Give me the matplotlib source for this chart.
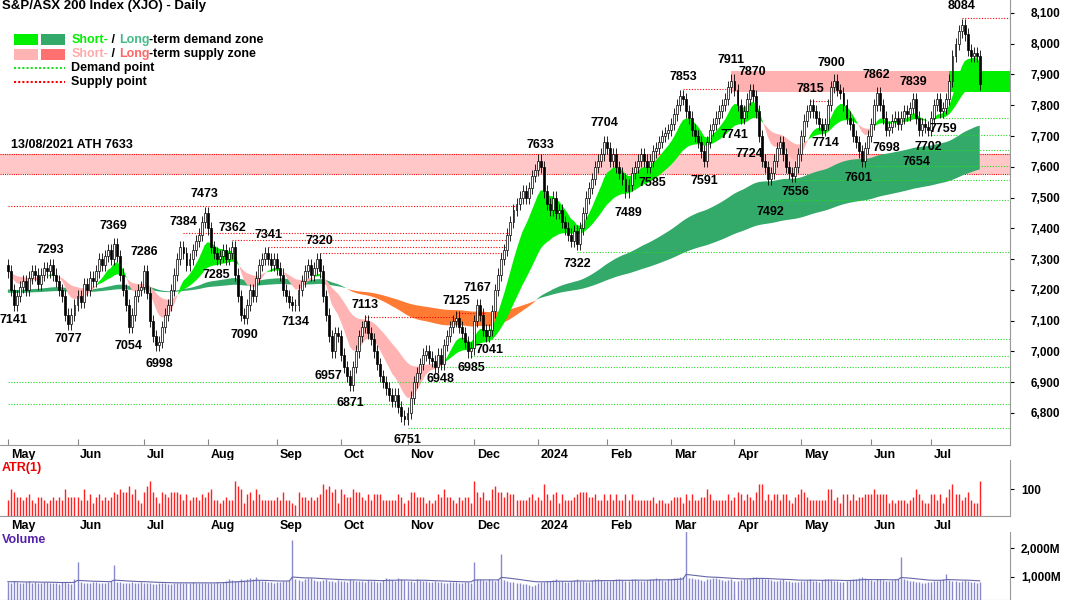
"""S&P/ASX 200 daily chart: candles, demand/supply zones, ATR(1) and volume panels -> out.png."""
import numpy as np
import matplotlib
matplotlib.use("Agg")
import matplotlib.pyplot as plt
from matplotlib.patches import Rectangle
from matplotlib.ticker import FuncFormatter

plt.rcParams["font.family"] = ["Liberation Sans", "DejaVu Sans"]

# daily closes, May 2023 .. 23 Jul 2024
closes = [
    7260, 7200, 7150, 7180, 7210, 7230, 7200, 7240, 7260, 7250, 7220, 7250, 7270, 7260, 7280, 7250, 7230, 7200, 7180, 7120, 7090, 7120, 7150,
    7180, 7160, 7220, 7200, 7240, 7230, 7260, 7300, 7280, 7310, 7330, 7300, 7350, 7310, 7250, 7200, 7150, 7080, 7120, 7180, 7200, 7210,
    7260, 7190, 7100, 7050, 7020, 7030, 7080, 7120, 7150, 7200, 7250, 7300, 7340, 7320, 7280, 7300, 7330, 7360, 7380, 7420, 7450,
    7400, 7340, 7320, 7300, 7310, 7330, 7300, 7320, 7340, 7250, 7180, 7120, 7110, 7150, 7200, 7180, 7240, 7280, 7300, 7320, 7300, 7280, 7300,
    7270, 7250, 7200, 7180, 7160, 7150, 7150, 7200, 7230, 7260, 7280, 7250, 7270, 7300, 7260, 7180, 7120, 7050, 7000, 7060, 7050,
    6990, 6950, 6920, 6890, 6950, 7000, 7050, 7080, 7100, 7060, 7040, 7000, 6960, 6920, 6900, 6880, 6860, 6840, 6860, 6820, 6790, 6780,
    6800, 6850, 6900, 6930, 6960, 6990, 7000, 6980, 6970, 6950, 6990, 6960, 7020, 7050, 7080, 7100, 7110, 7080, 7060, 7030, 7000, 7010,
    7100, 7150, 7120, 7070, 7050, 7070, 7130, 7200, 7250, 7300, 7330, 7380, 7420, 7460, 7480, 7500, 7520, 7500, 7530, 7570, 7590,
    7620, 7600, 7520, 7480, 7460, 7500, 7450, 7460, 7420, 7400, 7380, 7360, 7390, 7350, 7400, 7450, 7500, 7530, 7560, 7600, 7620, 7640, 7680,
    7660, 7620, 7640, 7600, 7580, 7560, 7520, 7540, 7580, 7600, 7620, 7640, 7620, 7600, 7620, 7650, 7660, 7680, 7700, 7710, 7720,
    7740, 7770, 7800, 7830, 7820, 7780, 7760, 7720, 7700, 7680, 7650, 7620, 7680, 7720, 7740, 7760, 7780, 7800, 7820, 7860, 7880,
    7850, 7800, 7760, 7780, 7820, 7850, 7830, 7780, 7700, 7620, 7600, 7560, 7580, 7620, 7660, 7680, 7640, 7600, 7580, 7570, 7600, 7640,
    7700, 7750, 7780, 7800, 7780, 7760, 7740, 7720, 7740, 7800, 7860, 7880, 7850, 7840, 7800, 7760, 7740, 7700, 7680, 7650, 7620, 7660, 7700,
    7740, 7800, 7840, 7800, 7760, 7720, 7730, 7750, 7760, 7740, 7760, 7780, 7770, 7790, 7820, 7760, 7720, 7740, 7730, 7720,
    7760, 7800, 7820, 7780, 7790, 7820, 7880, 7960, 8000, 8040, 8060, 8030, 7980, 7960, 7970, 7960, 7870,
]
first_open = 7280
wick = 20

# volume, millions of shares
volumes = [
    820, 780, 850, 800, 790, 760, 810, 830, 790, 800, 770, 760, 820, 800, 790, 780, 760, 740, 800, 820, 780, 750, 900,
    1500, 800, 780, 760, 790, 820, 800, 780, 770, 790, 810, 830, 1400, 820, 800, 780, 760, 790, 800, 770, 760, 820,
    790, 780, 760, 740, 750, 770, 780, 760, 740, 730, 760, 780, 790, 770, 760, 780, 800, 790, 770, 760, 780,
    770, 760, 780, 800, 790, 820, 840, 900, 880, 860, 840, 900, 880, 920, 960, 900, 1000, 880, 860, 840, 820, 800, 780,
    800, 820, 840, 860, 880, 2300, 900, 880, 860, 920, 960, 940, 880, 860, 840, 880, 900, 860, 840, 820, 880,
    860, 840, 820, 900, 880, 860, 840, 830, 820, 880, 860, 840, 820, 800, 880, 960, 900, 880, 860, 940, 900, 880,
    860, 840, 820, 900, 880, 860, 840, 820, 800, 840, 820, 800, 780, 760, 800, 820, 800, 780, 760, 800, 820, 790,
    1500, 900, 920, 880, 860, 900, 880, 860, 920, 1800, 880, 840, 820, 800, 780, 760, 740, 720, 700, 680, 700,
    760, 800, 820, 840, 860, 880, 900, 860, 840, 820, 800, 860, 880, 900, 860, 840, 820, 800, 880, 900, 920, 880, 860,
    840, 860, 880, 900, 920, 880, 860, 840, 900, 920, 880, 860, 840, 880, 900, 920, 940, 900, 880, 860, 900,
    920, 940, 960, 980, 1000, 2600, 960, 940, 920, 900, 880, 860, 900, 920, 940, 960, 900, 880, 860, 880, 900,
    840, 860, 880, 900, 920, 940, 980, 1000, 960, 940, 920, 900, 880, 860, 840, 880, 900, 860, 840, 820, 800, 820,
    840, 860, 880, 900, 860, 840, 820, 880, 900, 920, 880, 860, 840, 820, 800, 860, 880, 900, 920, 940, 1000, 960, 900,
    880, 860, 900, 920, 880, 860, 840, 880, 900, 920, 1700, 900, 880, 860, 840, 820, 800, 780, 760, 800,
    820, 840, 860, 880, 900, 1100, 880, 860, 840, 820, 860, 880, 840, 820, 800, 780, 820,
]

month_labels = ["May", "Jun", "Jul", "Aug", "Sep", "Oct", "Nov", "Dec", "2024",
                "Feb", "Mar", "Apr", "May", "Jun", "Jul"]
month_start = [0, 23, 45, 66, 89, 110, 132, 154, 175, 198, 219, 240, 262, 285, 305]

# labelled swing points: bar index, value, above(h)/below(l)
pivot_idx = [2, 14, 20, 35, 40, 45, 50, 58, 65, 69, 74, 78, 86, 95, 103, 106, 113, 118,
             132, 143, 148, 153, 155, 159, 176, 188, 197, 205, 213, 223, 230, 239, 240,
             245, 246, 252, 260, 265, 270, 272, 281, 287, 290, 299, 300, 304, 309, 315]
pivot_val = [7141, 7293, 7077, 7369, 7054, 7286, 6998, 7384, 7473, 7285, 7362, 7090, 7341,
             7134, 7320, 6957, 6871, 7113, 6751, 6948, 7125, 6985, 7167, 7041, 7633, 7322,
             7704, 7489, 7585, 7853, 7591, 7911, 7741, 7724, 7870, 7492, 7556, 7815, 7714,
             7900, 7601, 7862, 7698, 7839, 7654, 7702, 7759, 8084]
pivot_pos = ["l", "h", "l", "h", "l", "h", "l", "h", "h", "l", "h", "l", "h", "l", "h", "l",
             "l", "h", "l", "l", "h", "l", "h", "l", "h", "l", "h", "l", "l", "h", "l", "h",
             "l", "l", "h", "l", "l", "h", "l", "h", "l", "h", "l", "h", "l", "l", "l", "h"]

# demand points (green dotted): start bar, level -> run to the right edge
demand_start = [0, 0, 132, 143, 153, 159, 188, 252, 260, 281, 300, 304, 309]
demand_level = [6900, 6830, 6751, 6948, 6985, 7041, 7322, 7492, 7556, 7601, 7654, 7702, 7759]
# supply points (red dotted): start bar, end bar, level
supply_start = [0, 58, 74, 86, 103, 118, 148, 223, 265, 315]
supply_end = [168, 166, 165, 165, 164, 147, 158, 239, 272, 331]
supply_level = [7473, 7384, 7362, 7341, 7320, 7113, 7125, 7853, 7815, 8084]

ath_zone = (7575, 7640)
supply_zone = (239, 7842, 7912)
demand_zone = (311, 7842, 7912)

C_SHORT_UP, C_LONG_UP = "#00f000", "#33aa6a"
C_SHORT_DN, C_LONG_DN = "#ffb3b3", "#ff7a33"


def ema(values, span):
    a = 2.0 / (span + 1)
    out = [values[0]]
    for v in values[1:]:
        out.append(out[-1] + a * (v - out[-1]))
    return np.array(out)


closes_a = np.array(closes, dtype=float)
opens = np.concatenate([[first_open], closes_a[:-1]])
highs = np.maximum(opens, closes_a) + wick
lows = np.minimum(opens, closes_a) - wick
n = len(closes_a)
x = np.arange(n)
XMIN, XMAX = -2.6, 331

fig = plt.figure(figsize=(10.66, 6.0), dpi=100)
ax = fig.add_axes([0, 1 - 445 / 600, 1010 / 1066, 445 / 600])
ax_atr = fig.add_axes([0, 1 - 516 / 600, 1010 / 1066, 56 / 600])
ax_vol = fig.add_axes([0, 0, 1010 / 1066, 68 / 600])

# zones
ax.axhspan(*ath_zone, color="#ff9999", alpha=0.55, lw=0, zorder=0)
ax.axhline(ath_zone[1], color="red", ls=(0, (1, 1)), lw=0.8, zorder=0)
ax.axhline(ath_zone[0], color="red", ls=(0, (1, 1)), lw=0.8, zorder=0)
ax.add_patch(Rectangle((supply_zone[0], supply_zone[1]), XMAX - supply_zone[0],
                       supply_zone[2] - supply_zone[1], color="#ffb0b0", lw=0, zorder=0))
ax.add_patch(Rectangle((demand_zone[0], demand_zone[1]), XMAX - demand_zone[0],
                       demand_zone[2] - demand_zone[1], color="#00ee00", lw=0, zorder=1))
ax.text(1, ath_zone[1] + 12, "13/08/2021 ATH 7633", fontsize=9, fontweight="bold", va="bottom")

# moving-average bands
s_fast, s_slow = ema(closes, 10), ema(closes, 30)
l_fast = ema([7200] * 100 + closes, 110)[100:]
l_slow = ema([7190] * 200 + closes, 220)[200:]
up_s = s_fast >= s_slow
up_l = l_fast >= l_slow
ax.fill_between(x, l_fast, l_slow, where=up_l, color=C_LONG_UP, lw=0, zorder=1, interpolate=True)
ax.fill_between(x, l_fast, l_slow, where=~up_l, color=C_LONG_DN, lw=0, zorder=1, interpolate=True)
ax.fill_between(x, s_fast, s_slow, where=up_s, color=C_SHORT_UP, lw=0, zorder=1, interpolate=True)
ax.fill_between(x, s_fast, s_slow, where=~up_s, color=C_SHORT_DN, lw=0, zorder=1, interpolate=True)

for s, lv in zip(demand_start, demand_level):
    ax.hlines(lv, s, XMAX, color="#22dd22", ls=(0, (1, 1.5)), lw=0.8, zorder=2)
for s, e, lv in zip(supply_start, supply_end, supply_level):
    ax.hlines(lv, s, e, color="red", ls=(0, (1, 1.5)), lw=0.8, zorder=2)

# candles
ax.vlines(x, lows, highs, color="black", lw=0.6, zorder=3)
for i in range(n):
    up = closes_a[i] >= opens[i]
    bot = min(opens[i], closes_a[i])
    h = max(abs(closes_a[i] - opens[i]), 1.5)
    ax.add_patch(Rectangle((i - 0.32, bot), 0.64, h, facecolor="white" if up else "black",
                           edgecolor="black", lw=0.5, zorder=4))

for i, v, p in zip(pivot_idx, pivot_val, pivot_pos):
    dy = 4 if p == "h" else -4
    if v == 7724:          # stacked under 7741 in the reference
        dy = -14
    ax.annotate(str(v), (i, v), xytext=(0, dy), textcoords="offset points",
                ha="center", va="bottom" if p == "h" else "top", fontsize=9,
                fontweight="bold", zorder=6)

ax.set_xlim(XMIN, XMAX)
ax.set_ylim(6696, 8142)
ax.set_yticks(np.arange(6800, 8101, 100))
ax.yaxis.set_major_formatter(FuncFormatter(lambda v, _: f"{v:,.0f}"))

ax.text(0.002, 0.999, "S&P/ASX 200 Index (XJO) - Daily", transform=ax.transAxes,
        fontsize=9.5, fontweight="bold", va="top")
# legend
ax.add_patch(Rectangle((2, 7995), 8, 35, color=C_SHORT_UP, lw=0, zorder=5))
ax.add_patch(Rectangle((11, 7995), 8, 35, color=C_LONG_UP, lw=0, zorder=5))
ax.add_patch(Rectangle((2, 7948), 8, 35, color="#ffb3b3", lw=0, zorder=5))
ax.add_patch(Rectangle((11, 7948), 8, 35, color="#ff7070", lw=0, zorder=5))
for y, c1, c2, rest in [(8012, C_SHORT_UP, "#44bb88", "-term demand zone"),
                        (7965, "#ffaaaa", "#ff6666", "-term supply zone")]:
    t = ax.text(21, y, "Short-", color=c1, fontsize=9, va="center", fontweight="bold")
    t = ax.annotate(" / ", xycoords=t, xy=(1, 0.5), va="center", fontsize=9, fontweight="bold")
    t = ax.annotate("Long", xycoords=t, xy=(1, 0.5), va="center", fontsize=9, color=c2, fontweight="bold")
    ax.annotate(rest, xycoords=t, xy=(1, 0.5), va="center", fontsize=9, fontweight="bold")
ax.hlines(7920, 2, 19, color="#22dd22", ls=(0, (1, 1)), lw=1.5)
ax.hlines(7875, 2, 19, color="red", ls=(0, (1, 1)), lw=1.5)
ax.text(21, 7920, "Demand point", fontsize=9, va="center", fontweight="bold")
ax.text(21, 7875, "Supply point", fontsize=9, va="center", fontweight="bold")

# ATR(1) panel
atr = highs - lows
ax_atr.vlines(x, 0, atr, color="#ff2222", lw=1.0)
ax_atr.set_ylim(0, 208)
ax_atr.set_yticks([100])
ax_atr.text(0.002, 0.97, "ATR(1)", transform=ax_atr.transAxes, color="#ee0000",
            fontsize=9, fontweight="bold", va="top")

# volume panel
vols = np.array(volumes, dtype=float)
ax_vol.vlines(x, 0, vols, color="#8888cc", lw=1.0)
ax_vol.plot(x, ema(volumes, 20), color="#6666aa", lw=0.8)
ax_vol.set_ylim(170, 2580)
ax_vol.set_yticks([1000, 2000])
ax_vol.yaxis.set_major_formatter(FuncFormatter(lambda v, _: f"{v:,.0f}M"))
ax_vol.text(0.002, 0.97, "Volume", transform=ax_vol.transAxes, color="#5522aa",
            fontsize=9, fontweight="bold", va="top")

for a in (ax, ax_atr, ax_vol):
    a.set_xlim(XMIN, XMAX)
    a.yaxis.tick_right()
    a.tick_params(axis="y", labelsize=8.5, length=3, pad=5)
    for lab in a.get_yticklabels():
        lab.set_fontweight("bold")
    for s in ("left", "top"):
        a.spines[s].set_visible(False)
    a.spines["right"].set_color("#999999")
    a.spines["bottom"].set_color("#999999")
    a.set_xticks(month_start)
    a.set_xticklabels([])
    a.tick_params(axis="x", length=4, direction="in", color="#888888")
ax.tick_params(axis="y", pad=12)

for a in (ax, ax_atr):
    for m, lab in zip(month_start, month_labels):
        a.annotate(lab, (m, 0), xycoords=("data", "axes fraction"), xytext=(2, -3),
                   textcoords="offset points", ha="left", va="top", fontsize=9,
                   fontweight="bold", annotation_clip=False)

fig.savefig("out.png", dpi=100)
